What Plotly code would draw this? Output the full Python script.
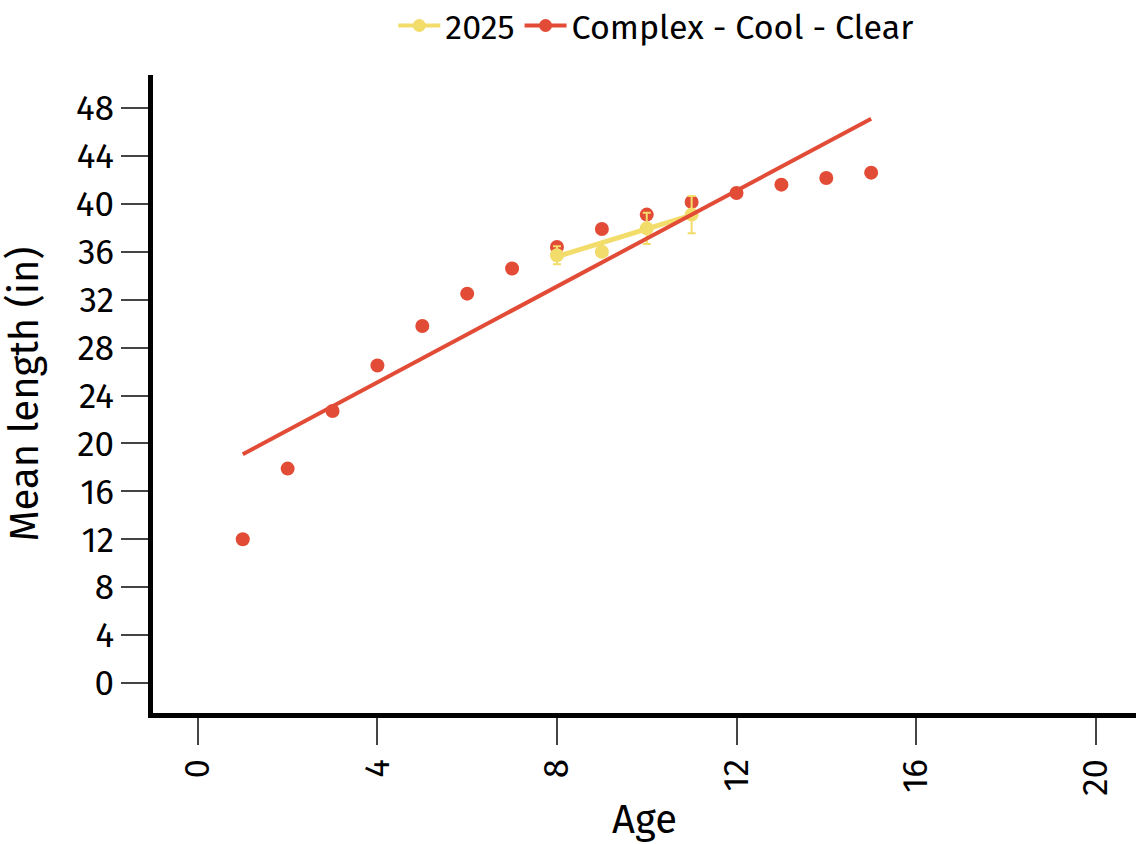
import plotly.graph_objects as go

# Mean length at age, Complex - Cool - Clear
ages = [1, 2, 3, 4, 5, 6, 7, 8, 9, 10, 11, 12, 13, 14, 15]
complex_len = [12.0, 17.9, 22.7, 26.5, 29.8, 32.5, 34.6, 36.4, 37.9, 39.1, 40.15, 40.9, 41.6, 42.15, 42.6]

# Linear trend endpoints for the complex series
trend_age = [1, 15]
trend_len = [19.1, 47.1]

# 2025 sample means with error
ages_2025 = [8, 9, 10, 11]
len_2025 = [35.7, 36.0, 37.95, 39.1]
err_2025 = [0.75, 0.3, 1.3, 1.55]

# Linear trend endpoints for 2025
trend_age_2025 = [8, 11]
trend_len_2025 = [35.6, 39.05]

x_ticks = [0, 4, 8, 12, 16, 20]
y_ticks = [0, 4, 8, 12, 16, 20, 24, 28, 32, 36, 40, 44, 48]

RED = "#E24B36"
YELLOW = "#F2DC6A"
FONT = "Fira Sans, Noto Sans, sans-serif"

fig = go.Figure()

fig.add_trace(go.Scatter(
    x=ages, y=complex_len, mode="markers",
    marker=dict(color=RED, size=14),
    showlegend=False,
))

fig.add_trace(go.Scatter(
    x=ages_2025, y=len_2025, mode="markers", name="2025",
    marker=dict(color=YELLOW, size=14),
    error_y=dict(type="data", array=err_2025, visible=True,
                 color=YELLOW, thickness=2, width=4),
    showlegend=False,
))

fig.add_trace(go.Scatter(
    x=trend_age_2025, y=trend_len_2025, mode="lines",
    line=dict(color=YELLOW, width=5),
    showlegend=False,
))

fig.add_trace(go.Scatter(
    x=trend_age, y=trend_len, mode="lines",
    line=dict(color=RED, width=4),
    showlegend=False,
))

# legend entries (line + marker) for both series
fig.add_trace(go.Scatter(
    x=[None], y=[None], mode="lines+markers", name="2025",
    line=dict(color=YELLOW, width=4),
    marker=dict(color=YELLOW, size=13),
))
fig.add_trace(go.Scatter(
    x=[None], y=[None], mode="lines+markers", name="Complex - Cool - Clear",
    line=dict(color=RED, width=4),
    marker=dict(color=RED, size=13),
))

fig.update_layout(
    width=1136, height=844,
    margin=dict(l=153, r=0, t=75, b=131, autoexpand=False),
    paper_bgcolor="white", plot_bgcolor="white",
    font=dict(family=FONT, size=34, color="black"),
    legend=dict(orientation="h", x=0.512, xanchor="center", y=1.077, yanchor="middle",
                font=dict(size=34), itemwidth=42, traceorder="normal"),
    xaxis=dict(
        range=[-1, 20.9], tickvals=x_ticks, ticktext=[str(v) for v in x_ticks],
        tickangle=-90, showgrid=False, zeroline=False, automargin=False,
        showline=True, linecolor="black", linewidth=5,
        ticks="outside", ticklen=27, tickwidth=2, tickcolor="#444",
        tickfont=dict(size=35),
        title=dict(text="Age", font=dict(size=40), standoff=22),
    ),
    yaxis=dict(
        range=[-2.5, 50.75], tickvals=y_ticks, ticktext=[str(v) for v in y_ticks],
        showgrid=False, zeroline=False, automargin=False,
        showline=True, linecolor="black", linewidth=5,
        ticks="outside", ticklen=27, tickwidth=2, tickcolor="#444",
        tickfont=dict(size=35),
        title=dict(text="Mean length (in)", font=dict(size=40), standoff=26),
    ),
)

fig.write_html("out.html")
